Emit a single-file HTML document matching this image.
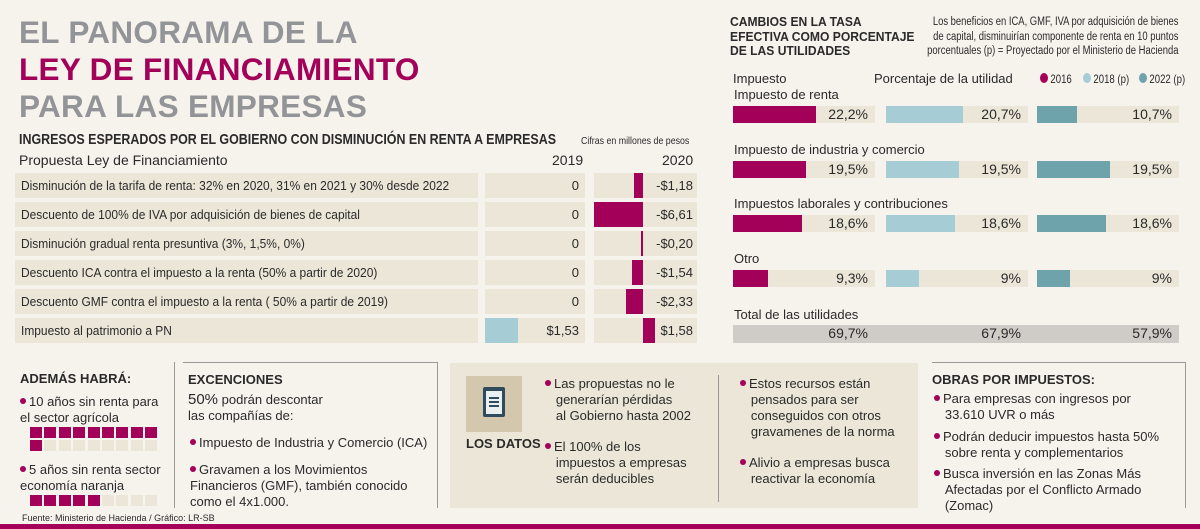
<!DOCTYPE html>
<html lang="es"><head><meta charset="utf-8">
<style>
*{margin:0;padding:0;box-sizing:border-box}
body{width:1200px;height:529px;background:#f6f3ed;font-family:"Liberation Sans",sans-serif;color:#2a2a2a;position:relative;overflow:hidden}
.a{position:absolute;white-space:nowrap}
.sx{transform-origin:0 0}
.t{font-weight:bold;font-size:31.5px;left:19px;letter-spacing:0.3px}
.dot{display:inline-block;width:6px;height:6px;border-radius:50%;background:#a3005a;margin-right:3px;vertical-align:2px}
.bt{font-size:13px;line-height:16px;white-space:normal}
</style></head><body>
<div class="a t" style="top:14px;color:#939498">EL PANORAMA DE LA</div>
<div class="a t" style="top:51px;color:#a3005a">LEY DE FINANCIAMIENTO</div>
<div class="a t" style="top:88px;color:#939498">PARA LAS EMPRESAS</div>

<div class="a sx" style="left:19px;top:131px;font-size:15px;font-weight:bold;transform:scaleX(.83)">INGRESOS ESPERADOS POR EL GOBIERNO CON DISMINUCIÓN EN RENTA A EMPRESAS</div>
<div class="a sx" style="left:581px;top:135px;font-size:10.5px;transform:scaleX(.84)">Cifras en millones de pesos</div>
<div class="a" style="left:19px;top:152px;font-size:14px">Propuesta Ley de Financiamiento</div>
<div class="a" style="left:552px;top:152px;font-size:14px">2019</div>
<div class="a" style="left:662px;top:152px;font-size:14px">2020</div>
<div id="left"></div>

<div class="a sx" style="left:730px;top:15px;font-size:13px;font-weight:bold;line-height:14.5px;transform:scaleX(.93)">CAMBIOS EN LA TASA<br>EFECTIVA COMO PORCENTAJE<br>DE LAS UTILIDADES</div>
<div class="a" style="right:21px;top:15px;font-size:11.5px;line-height:14.5px;text-align:right;transform:scaleX(.82);transform-origin:100% 0">Los beneficios en ICA, GMF, IVA por adquisición de bienes<br>de capital, disminuirían componente de renta en 10 puntos<br>porcentuales (p) = Proyectado por el Ministerio de Hacienda</div>
<div class="a" style="left:733px;top:71px;font-size:13px">Impuesto</div>
<div class="a" style="left:874px;top:71px;font-size:13px">Porcentaje de la utilidad</div>
<div class="a sx" style="left:1040px;top:72px;font-size:12px;transform:scaleX(.8)"><span class="dot" style="width:10px;height:10px;vertical-align:0"></span>2016</div>
<div class="a sx" style="left:1083px;top:72px;font-size:12px;transform:scaleX(.8)"><span class="dot" style="width:10px;height:10px;vertical-align:0;background:#a6ccd6"></span>2018 (p)</div>
<div class="a sx" style="left:1139px;top:72px;font-size:12px;transform:scaleX(.8)"><span class="dot" style="width:10px;height:10px;vertical-align:0;background:#6fa3ac"></span>2022 (p)</div>
<div id="right"></div>

<!-- bottom -->
<div class="a" style="left:174px;top:362px;width:1px;height:146px;background:#999"></div>
<div class="a" style="left:20px;top:371px;font-size:13px;font-weight:bold">ADEMÁS HABRÁ:</div>
<div class="a bt" style="left:20px;top:394px;width:150px"><span class="dot"></span>10 años sin renta para el sector agrícola</div>
<div class="a bt" style="left:20px;top:462px;width:152px"><span class="dot"></span>5 años sin renta sector economía naranja</div>
<div id="sqs"></div>

<div class="a" style="left:183px;top:362px;width:255px;height:1px;background:#999"></div>
<div class="a" style="left:437px;top:362px;width:1px;height:146px;background:#999"></div>
<div class="a" style="left:188px;top:372px;font-size:13px;font-weight:bold">EXCENCIONES</div>
<div class="a bt" style="left:188px;top:392px;width:240px;font-size:13px"><span style="font-size:15px">50%</span> podrán descontar<br>las compañías de:</div>
<div class="a bt" style="left:190px;top:435px;width:245px"><span class="dot"></span>Impuesto de Industria y Comercio (ICA)</div>
<div class="a bt" style="left:190px;top:462px;width:245px"><span class="dot"></span>Gravamen a los Movimientos Financieros (GMF), también conocido como el 4x1.000.</div>

<div class="a" style="left:450px;top:363px;width:468px;height:145px;background:#ece6d9"></div>
<div class="a" style="left:466px;top:376px;width:56px;height:56px;background:#d3c7ad">
<div style="position:absolute;left:17px;top:11px;width:22px;height:30px;background:#2f4b5c;border-radius:2px"></div>
<div style="position:absolute;left:20px;top:15px;width:16px;height:23px;background:#e8f0f2"></div>
<div style="position:absolute;left:23px;top:21px;width:10px;height:2px;background:#2f4b5c;box-shadow:0 4px 0 #2f4b5c,0 8px 0 #2f4b5c"></div></div>
<div class="a" style="left:466px;top:436px;font-size:13px;font-weight:bold">LOS DATOS</div>
<div class="a bt" style="left:545px;top:376px;width:170px"><span class="dot"></span>Las propuestas no le<br>&nbsp;&nbsp;&nbsp;generarían pérdidas<br>&nbsp;&nbsp;&nbsp;al Gobierno hasta 2002</div>
<div class="a bt" style="left:545px;top:439px;width:170px"><span class="dot"></span>El 100% de los<br>&nbsp;&nbsp;&nbsp;impuestos a empresas<br>&nbsp;&nbsp;&nbsp;serán deducibles</div>
<div class="a" style="left:718px;top:375px;width:1px;height:127px;background:#999"></div>
<div class="a bt" style="left:740px;top:376px;width:170px"><span class="dot"></span>Estos recursos están<br>&nbsp;&nbsp;&nbsp;pensados para ser<br>&nbsp;&nbsp;&nbsp;conseguidos con otros<br>&nbsp;&nbsp;&nbsp;gravamenes de la norma</div>
<div class="a bt" style="left:740px;top:455px;width:170px"><span class="dot"></span>Alivio a empresas busca<br>&nbsp;&nbsp;&nbsp;reactivar la economía</div>

<div class="a" style="left:932px;top:362px;width:254px;height:1px;background:#999"></div>
<div class="a" style="left:1185px;top:362px;width:1px;height:146px;background:#999"></div>
<div class="a" style="left:932px;top:372px;font-size:13px;font-weight:bold">OBRAS POR IMPUESTOS:</div>
<div class="a bt" style="left:934px;top:391px;width:250px"><span class="dot"></span>Para empresas con ingresos por<br>&nbsp;&nbsp;&nbsp;33.610 UVR o más</div>
<div class="a bt" style="left:934px;top:429px;width:250px"><span class="dot"></span>Podrán deducir impuestos hasta 50%<br>&nbsp;&nbsp;&nbsp;sobre renta y complementarios</div>
<div class="a bt" style="left:934px;top:466px;width:250px"><span class="dot"></span>Busca inversión en las Zonas Más<br>&nbsp;&nbsp;&nbsp;Afectadas por el Conflicto Armado<br>&nbsp;&nbsp;&nbsp;(Zomac)</div>

<div class="a" style="left:22px;top:513px;font-size:9px">Fuente:  Ministerio de Hacienda / Gráfico: LR-SB</div>
<div class="a" style="left:0;top:524px;width:1200px;height:5px;background:#a3005a"></div>

<script>
const leftLabels=["Disminución de la tarifa de renta: 32% en 2020, 31% en 2021 y 30% desde 2022","Descuento de 100% de IVA por adquisición de bienes de capital","Disminución gradual renta presuntiva (3%, 1,5%, 0%)","Descuento ICA contra el impuesto a la renta (50% a partir de 2020)","Descuento GMF contra el impuesto a la renta ( 50% a partir de 2019)","Impuesto al patrimonio a PN"];
const vals2019=[0,0,0,0,0,1.53];
const vals2020=[-1.18,-6.61,-0.20,-1.54,-2.33,1.58];
const labels2019=["0","0","0","0","0","$1,53"];
const labels2020=["-$1,18","-$6,61","-$0,20","-$1,54","-$2,33","$1,58"];

const rightCats=["Impuesto de renta","Impuesto de industria y comercio","Impuestos laborales y contribuciones","Otro"];
const s2016=[22.2,19.5,18.6,9.3];
const s2018=[20.7,19.5,18.6,9];
const s2022=[10.7,19.5,18.6,9];
const lbl2016=["22,2%","19,5%","18,6%","9,3%"];
const lbl2018=["20,7%","19,5%","18,6%","9%"];
const lbl2022=["10,7%","19,5%","18,6%","9%"];
const totals=["69,7%","67,9%","57,9%"];

const agro=10, naranja=5;

function mk(parent,css,text){const d=document.createElement('div');d.style.cssText='position:absolute;'+css;if(text!==undefined)d.textContent=text;parent.appendChild(d);return d;}
const L=document.getElementById('left');
const y0=173,pitch=29;
const x19=(v)=>21.5*v, x20=(v)=>7.4*v, zero20=643;
leftLabels.forEach((lab,i)=>{
  const y=y0+i*pitch;
  let e=mk(L,`left:15px;top:${y}px;width:463px;height:25px;background:#ece6d9`);
  
  
  e=mk(L,`left:21px;top:${y}px;height:25px;font-size:13px;line-height:25px;white-space:nowrap;transform:scaleX(.92);transform-origin:0 0`,lab);
  
  
  e=mk(L,`left:485px;top:${y}px;width:100px;height:25px;background:#ece6d9`);
  
  
  if(vals2019[i]>0){e=mk(L,`left:485px;top:${y}px;width:${x19(vals2019[i])}px;height:25px;background:#a6ccd6`);
  
  }
  e=mk(L,`left:485px;top:${y}px;width:94px;height:25px;font-size:13px;line-height:25px;text-align:right`,labels2019[i]);
  
  
  e=mk(L,`left:594px;top:${y}px;width:103px;height:25px;background:#ece6d9`);
  
  
  const v=vals2020[i],w=Math.max(2,Math.abs(x20(v)));
  e=mk(L,`left:${v<0?zero20-w:zero20}px;top:${y}px;width:${w}px;height:25px;background:#a3005a`);
  
  
  e=mk(L,`left:594px;top:${y}px;width:99px;height:25px;font-size:13px;line-height:25px;text-align:right`,labels2020[i]);
  
  
});

const R=document.getElementById('right');
const cols=[733,886,1037],cw=142,ps=3.72;
const series=[s2016,s2018,s2022],slabels=[lbl2016,lbl2018,lbl2022],colors=['#a3005a','#a6ccd6','#6fa3ac'];
rightCats.forEach((c,i)=>{
  const y=106+i*54.7;
  let e=mk(R,`left:734px;top:${y-19}px;font-size:13px;white-space:nowrap`,c);
  
  
  series.forEach((s,j)=>{
    e=mk(R,`left:${cols[j]}px;top:${y}px;width:${cw}px;height:17px;background:#ece6d9`);
    
    
    e=mk(R,`left:${cols[j]}px;top:${y}px;width:${s[i]*ps}px;height:17px;background:${colors[j]}`);
    
    
    e=mk(R,`left:${cols[j]}px;top:${y-1}px;width:${cw-7}px;font-size:14px;line-height:19px;text-align:right`,slabels[j][i]);
    
    
  });
});
let t=mk(R,`left:734px;top:307px;font-size:13px;white-space:nowrap`,'Total de las utilidades');


t=mk(R,`left:733px;top:325px;width:446px;height:18px;background:#cfcbc6`);


totals.forEach((v,j)=>{const e=mk(R,`left:${cols[j]}px;top:324px;width:${cw-7}px;font-size:14px;line-height:19px;text-align:right`,v);
  
  });

const S=document.getElementById('sqs');
function grid(top,n,rows){for(let k=0;k<rows*9;k++){const r=Math.floor(k/9),c=k%9;
  const e=mk(S,`left:${30+c*14.4}px;top:${top+r*13}px;width:12px;height:11px;background:${k<n?'#a3005a':'#ece6d9'}`);
  
  }}
grid(427,agro,2);grid(495,naranja,1);
</script>
</body></html>
